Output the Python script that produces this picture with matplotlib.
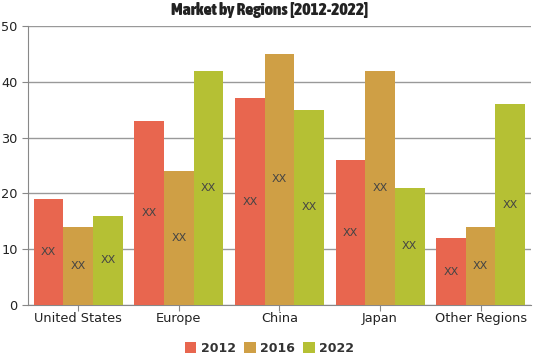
import numpy as np
import matplotlib.pyplot as plt
from matplotlib import font_manager

regions = ['United States', 'Europe', 'China', 'Japan', 'Other Regions']
years = ['2012', '2016', '2022']
v2012 = [19, 33, 37, 26, 12]
v2016 = [14, 24, 45, 42, 14]
v2022 = [16, 42, 35, 21, 36]
colors = ['#E8664F', '#CF9F45', '#B5C034']

# heaviest condensed/narrow face available for the title
cands = [f for f in font_manager.fontManager.ttflist
         if ('Condensed' in f.name or 'Narrow' in f.name
             or 'ondensed' in f.fname or 'Narrow' in f.fname)]


def wnum(f):
    wt = f.weight
    if isinstance(wt, str):
        wt = {'bold': 700, 'heavy': 900, 'black': 900, 'normal': 400}.get(wt, 400)
    return wt


title_prop = None
if cands:
    best = max(cands, key=wnum)
    title_prop = font_manager.FontProperties(fname=best.fname, size=12.5)

fig = plt.figure(figsize=(5.39, 3.59), dpi=100)
ax = fig.add_axes([0.052, 0.150, 0.933, 0.778])

x = np.arange(len(regions))
w = 0.295
for i, (vals, c, lab) in enumerate(zip([v2012, v2016, v2022], colors, years)):
    pos = x + (i - 1) * w
    ax.bar(pos, vals, width=w, color=c, label=lab, zorder=3, linewidth=0)
    for p, v in zip(pos, vals):
        ax.text(p, v / 2, 'XX', ha='center', va='center', fontsize=8,
                color='#444444', zorder=4)

ax.set_xlim(-0.5, len(regions) - 0.5)
ax.set_ylim(0, 50)
ax.set_yticks(range(0, 51, 10))
ax.set_xticks(x)
ax.set_xticklabels(regions)
ax.yaxis.grid(True, color='#999999', linewidth=1, zorder=0)
for s in ['top', 'right']:
    ax.spines[s].set_visible(False)
for s in ['left', 'bottom']:
    ax.spines[s].set_color('#888888')
ax.tick_params(axis='both', colors='#888888', labelcolor='#222222',
               labelsize=9.3, length=4)
ax.tick_params(axis='x', pad=1)

if title_prop is not None:
    fig.suptitle('Market by Regions [2012-2022]', x=0.5, y=0.995,
                 fontproperties=title_prop, color='#222222')
else:
    fig.suptitle('Market by Regions [2012-2022]', x=0.5, y=0.99,
                 fontsize=10, fontweight='bold', color='#222222')

leg = fig.legend(loc='lower center', bbox_to_anchor=(0.5, -0.02), ncol=3,
                 frameon=False, handlelength=0.95, handleheight=0.95,
                 columnspacing=0.65, handletextpad=0.35,
                 prop={'weight': 'bold', 'size': 9})
for t in leg.get_texts():
    t.set_color('#333333')

fig.savefig('out.png', dpi=100)
